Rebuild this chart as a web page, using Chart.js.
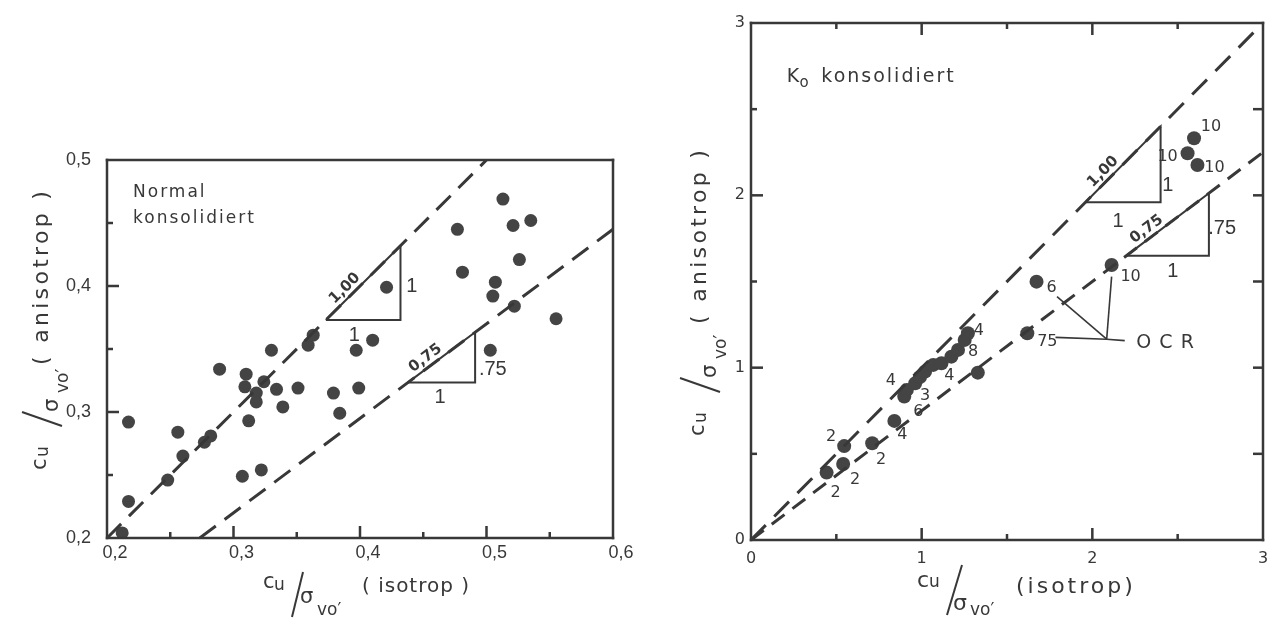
<!DOCTYPE html>
<html>
<head>
<meta charset="utf-8">
<script src="https://cdn.jsdelivr.net/npm/chart.js@4.4.1/dist/chart.umd.min.js"></script>
<style>
  html, body { margin: 0; padding: 0; background: #fff; }
  #wrap { position: relative; width: 1270px; height: 620px; overflow: hidden; }
  .box { position: absolute; top: 0; height: 620px; }
  #left { left: 0; width: 640px; }
  #right { left: 640px; width: 630px; }
</style>
</head>
<body>
<div id="wrap">
  <div class="box" id="left"><canvas id="nc-canvas"></canvas></div>
  <div class="box" id="right"><canvas id="k0-canvas"></canvas></div>
</div>
<script>
// normal konsolidiert: cu/sigma'vo isotrop (x) vs anisotrop (y)
var ncIso = [0.217, 0.217, 0.212, 0.248, 0.256, 0.260, 0.277, 0.282, 0.289, 0.307,
             0.322, 0.310, 0.309, 0.312, 0.318, 0.318, 0.324, 0.330, 0.334, 0.339,
             0.351, 0.359, 0.363, 0.379, 0.384, 0.397, 0.399, 0.410, 0.421, 0.477,
             0.481, 0.513, 0.521, 0.535, 0.526, 0.507, 0.505, 0.522, 0.555, 0.503];
var ncAniso = [0.292, 0.229, 0.204, 0.246, 0.284, 0.265, 0.276, 0.281, 0.334, 0.249,
               0.254, 0.330, 0.320, 0.293, 0.315, 0.308, 0.324, 0.349, 0.318, 0.304,
               0.319, 0.353, 0.361, 0.315, 0.299, 0.349, 0.319, 0.357, 0.399, 0.445,
               0.411, 0.469, 0.448, 0.452, 0.421, 0.403, 0.392, 0.384, 0.374, 0.349];
var ncTicksX = [0.2, 0.3, 0.4, 0.5, 0.6];
var ncTicksY = [0.2, 0.3, 0.4, 0.5];
var ncSlopes = [1.00, 0.75];
var ncIntercepts = [0, -0.005];
var ncTriangles = [[0.373, 0.432], [0.438, 0.491]];   // x range of each slope triangle

// K0 konsolidiert, with OCR per test
var k0Iso = [0.443, 0.546, 0.540, 0.710, 0.840, 0.898, 0.913, 0.962, 0.990, 1.020,
             1.068, 1.116, 1.174, 1.213, 1.252, 1.271, 1.329, 1.619, 1.673, 2.113,
             2.596, 2.558, 2.616];
var k0Aniso = [0.391, 0.545, 0.441, 0.561, 0.691, 0.833, 0.871, 0.909, 0.945, 0.977,
               1.016, 1.026, 1.064, 1.103, 1.161, 1.200, 0.971, 1.200, 1.499, 1.596,
               2.331, 2.244, 2.176];
var k0Ocr = ['2', '2', '2', '2', '4', '6', '4', '3', '', '',
             '', '4', '', '8', '', '4', '', '75', '6', '10',
             '10', '10', '10'];
var k0Ticks = [0, 1, 2, 3];
var k0Slopes = [1.00, 0.75];
var k0Intercepts = [0, 0];
var k0Triangles = [[1.96, 2.40], [2.20, 2.683]];

var ink = '#383838';
var dot = '#444444';

// where each OCR number sits next to its point (px)
var ocrShift = [[9, 20], [-13, -9], [12, 16], [9, 17], [8, 14], [14, 15], [-16, -9], [10, 12], [0, 0], [0, 0],
                [0, 0], [8, 13], [0, 0], [15, 2], [0, 0], [11, -2], [0, 0], [20, 9], [15, 6], [19, 12],
                [17, -11], [-20, 4], [17, 3]];

function pairs(xs, ys) {
  return xs.map(function (v, i) { return {x: v, y: ys[i]}; });
}

function refLine(m, b, xr, yr) {
  var x0 = Math.max(xr[0], (yr[0] - b) / m);
  var x1 = Math.min(xr[1], (yr[1] - b) / m);
  return [{x: x0, y: m * x0 + b}, {x: x1, y: m * x1 + b}];
}

function triangle(m, b, xs) {
  var ya = m * xs[0] + b, yb = m * xs[1] + b;
  return [{x: xs[0], y: ya}, {x: xs[1], y: ya}, {x: xs[1], y: yb}, {x: xs[0], y: ya}];
}

function seg(data, width, dash) {
  return {
    data: data, showLine: true, borderColor: ink, borderWidth: width,
    borderDash: dash || [], pointRadius: 0, fill: false, tension: 0
  };
}

function fixedScale(size, horizontal) {
  return function (s) {
    if (horizontal) s.height = size; else s.width = size;
    s.paddingLeft = 0; s.paddingRight = 0; s.paddingTop = 0; s.paddingBottom = 0;
  };
}

function useTicks(list) {
  return function (s) { s.ticks = list.map(function (v) { return {value: v}; }); };
}

// major ticks on inner values, minor ticks halfway between
function tickMarks(list) {
  var out = [];
  for (var i = 0; i < list.length; i++) {
    if (i > 0 && i < list.length - 1) out.push([list[i], 12]);
    if (i < list.length - 1) out.push([(list[i] + list[i + 1]) / 2, 6]);
  }
  return out;
}

// frame with inward ticks
function framePlugin(edges, xList, yList) {
  var has = {};
  edges.forEach(function (e) { has[e] = true; });
  return {
    id: 'frame',
    afterDraw: function (chart) {
      var ctx = chart.ctx, a = chart.chartArea, sx = chart.scales.x, sy = chart.scales.y;
      var w = 2.5, h = w / 2;
      ctx.save();
      ctx.fillStyle = ink;
      ctx.fillRect(a.left - h, a.top - h, a.right - a.left + w, w);
      ctx.fillRect(a.left - h, a.bottom - h, a.right - a.left + w, w);
      ctx.fillRect(a.left - h, a.top - h, w, a.bottom - a.top + w);
      ctx.fillRect(a.right - h, a.top - h, w, a.bottom - a.top + w);
      tickMarks(xList).forEach(function (m) {
        var p = sx.getPixelForValue(m[0]);
        if (has.bottom) ctx.fillRect(p - h, a.bottom - m[1], w, m[1]);
        if (has.top) ctx.fillRect(p - h, a.top, w, m[1]);
      });
      tickMarks(yList).forEach(function (m) {
        var p = sy.getPixelForValue(m[0]);
        if (has.left) ctx.fillRect(a.left, p - h, m[1], w);
        if (has.right) ctx.fillRect(a.right - 10, p - h, 10, w);
      });
      ctx.restore();
    }
  };
}

// cu / sigma'vo composite axis title, drawn in a local frame
function drawRatioTitle(ctx, t) {
  ctx.save();
  ctx.translate(t.x, t.y);
  ctx.rotate(t.rot);
  ctx.fillStyle = ink;
  ctx.strokeStyle = ink;
  ctx.textAlign = 'left';
  ctx.textBaseline = 'alphabetic';
  ctx.font = t.size + 'px "DejaVu Sans"';
  ctx.fillText('c', 0, 0);
  ctx.font = t.sub + 'px "DejaVu Sans"';
  ctx.fillText('u', t.u[0], t.u[1]);
  ctx.lineWidth = 2;
  ctx.beginPath();
  ctx.moveTo(t.slash[0], t.slash[1]);
  ctx.lineTo(t.slash[2], t.slash[3]);
  ctx.stroke();
  ctx.font = t.size + 'px "DejaVu Sans"';
  ctx.fillText('σ', t.sigma[0], t.sigma[1]);
  ctx.font = t.sub + 'px "DejaVu Sans"';
  ctx.fillText('vo′', t.vo[0], t.vo[1]);
  ctx.font = t.mainSize + 'px "DejaVu Sans"';
  ctx.letterSpacing = t.spacing + 'px';
  ctx.fillText(t.text, t.main[0], t.main[1]);
  ctx.restore();
}

// text notes placed in data coordinates; a slope note sits on its line, rotated along it
function notesPlugin(notes, titles) {
  return {
    id: 'notes',
    afterDraw: function (chart) {
      var ctx = chart.ctx, sx = chart.scales.x, sy = chart.scales.y;
      notes.forEach(function (n) {
        var px = sx.getPixelForValue(n.x) + (n.dx || 0);
        var py = sy.getPixelForValue(n.y) + (n.dy || 0);
        var lift = 0;
        ctx.save();
        ctx.translate(px, py);
        if (n.slope) {
          var ang = Math.atan2(sy.getPixelForValue(n.slope) - sy.getPixelForValue(0),
                               sx.getPixelForValue(1) - sx.getPixelForValue(0));
          ctx.rotate(ang);
          lift = -5;
        }
        ctx.fillStyle = ink;
        ctx.font = (n.weight || 'normal') + ' ' + n.size + 'px ' + (n.family || '"DejaVu Sans"');
        ctx.letterSpacing = (n.spacing || 0) + 'px';
        ctx.textAlign = n.align || 'center';
        ctx.textBaseline = n.slope ? 'alphabetic' : (n.base || 'middle');
        ctx.fillText(n.text, 0, lift);
        ctx.restore();
      });
      titles.forEach(function (t) { drawRatioTitle(ctx, t); });
    }
  };
}

function axis(ticksList, fmt, font, pad, width, horizontal, offset) {
  return {
    type: 'linear',
    min: ticksList[0],
    max: ticksList[ticksList.length - 1],
    grid: {display: false, drawTicks: false},
    border: {display: false},
    ticks: {
      color: ink, font: font, padding: pad, labelOffset: offset || 0,
      maxRotation: 0, autoSkip: false, callback: fmt
    },
    afterBuildTicks: useTicks(ticksList),
    afterFit: fixedScale(width, horizontal)
  };
}

Chart.defaults.font.family = '"DejaVu Sans"';

// ---- left panel ----
var ncX = [ncTicksX[0], ncTicksX[ncTicksX.length - 1]];
var ncY = [ncTicksY[0], ncTicksY[ncTicksY.length - 1]];
var ncSets = [];
ncSlopes.forEach(function (m, i) {
  ncSets.push(seg(refLine(m, ncIntercepts[i], ncX, ncY), 3, [20, 11]));
  ncSets.push(seg(triangle(m, ncIntercepts[i], ncTriangles[i]), 2));
});
ncSets.push({
  data: pairs(ncIso, ncAniso), backgroundColor: dot, borderColor: dot,
  borderWidth: 0, pointRadius: 6.5, pointHoverRadius: 6.5
});

var commaFmt = function (v) { return v.toFixed(1).replace('.', ','); };
var labelFont = {family: '"Liberation Sans"', size: 18};
var thin = '"Liberation Sans"';

var ncNotes = [
  {text: 'Normal', x: 0.2206, y: 0.4706, size: 17, spacing: 2, align: 'left', base: 'alphabetic'},
  {text: 'konsolidiert', x: 0.2206, y: 0.450, size: 17, spacing: 2, align: 'left', base: 'alphabetic'},
  {text: '1,00', x: 0.393, y: 0.393, size: 15, weight: 'bold', slope: 1.00},
  {text: '1', x: 0.441, y: 0.3994, size: 20, family: thin},
  {text: '1', x: 0.3956, y: 0.361, size: 20, family: thin},
  {text: '0,75', x: 0.456, y: 0.337, size: 15, weight: 'bold', slope: 0.75},
  {text: '.75', x: 0.505, y: 0.334, size: 20, family: thin},
  {text: '1', x: 0.4632, y: 0.3115, size: 20, family: thin}
];
var ncTitles = [
  {x: 263, y: 588, rot: 0, size: 21, sub: 17, u: [11, 2], slash: [40, -16, 29, 29],
   sigma: [37, 15], vo: [54, 27], mainSize: 20, spacing: 1, text: '( isotrop )', main: [99, 4]},
  {x: 46, y: 470, rot: -Math.PI / 2, size: 21, sub: 17, u: [13, 2], slash: [58, -24, 44, 16],
   sigma: [58, 12], vo: [77, 22], mainSize: 22, spacing: 3.3, text: '( anisotrop )', main: [105, 2]}
];

new Chart(document.getElementById('nc-canvas'), {
  type: 'scatter',
  data: {datasets: ncSets},
  options: {
    responsive: true, maintainAspectRatio: false, animation: false,
    layout: {padding: {left: 0, right: 27, top: 160, bottom: 0}},
    plugins: {legend: {display: false}, tooltip: {enabled: false}},
    events: [],
    scales: {
      x: axis(ncTicksX, commaFmt, labelFont, 4, 82, true, 8),
      y: axis(ncTicksY, commaFmt, labelFont, 16, 107, false)
    }
  },
  plugins: [framePlugin(['left', 'bottom'], ncTicksX, ncTicksY), notesPlugin(ncNotes, ncTitles)]
});

// ---- right panel ----
var k0R = [k0Ticks[0], k0Ticks[k0Ticks.length - 1]];
var k0Sets = [];
k0Slopes.forEach(function (m, i) {
  k0Sets.push(seg(refLine(m, k0Intercepts[i], k0R, k0R), 3, i === 0 ? [21, 12] : [16, 10]));
  k0Sets.push(seg(triangle(m, k0Intercepts[i], k0Triangles[i]), 2));
});
// OCR leader lines
var hub = {x: 2.084, y: 1.165};
k0Sets.push(seg([{x: 1.784, y: 1.176}, hub, {x: 2.190, y: 1.157}], 1.6));
k0Sets.push(seg([{x: 1.793, y: 1.412}, hub], 1.6));
k0Sets.push(seg([{x: 2.113, y: 1.528}, hub], 1.6));
k0Sets.push({
  data: pairs(k0Iso, k0Aniso), backgroundColor: dot, borderColor: dot,
  borderWidth: 0, pointRadius: 7, pointHoverRadius: 7
});

var k0Notes = [
  {text: 'K', x: 0.209, y: 2.658, size: 19, align: 'left', base: 'alphabetic'},
  {text: 'o', x: 0.284, y: 2.658, dy: 5, size: 15, align: 'left', base: 'alphabetic'},
  {text: 'konsolidiert', x: 0.412, y: 2.658, size: 19, spacing: 2, align: 'left', base: 'alphabetic'},
  {text: '1,00', x: 2.10, y: 2.10, size: 15, weight: 'bold', slope: 1.00},
  {text: '1', x: 2.442, y: 2.060, size: 20, family: thin},
  {text: '1', x: 2.151, y: 1.847, size: 20, family: thin},
  {text: '0,75', x: 2.35, y: 1.7625, size: 15, weight: 'bold', slope: 0.75},
  {text: '.75', x: 2.761, y: 1.809, size: 20, family: thin},
  {text: '1', x: 2.471, y: 1.557, size: 20, family: thin},
  {text: 'O C R', x: 2.258, y: 1.143, size: 19, align: 'left', spacing: 1}
];
k0Ocr.forEach(function (s, i) {
  if (s) k0Notes.push({text: s, x: k0Iso[i], y: k0Aniso[i], dx: ocrShift[i][0], dy: ocrShift[i][1], size: 16});
});
var k0Titles = [
  {x: 277, y: 587, rot: 0, size: 22, sub: 17, u: [12, 0], slash: [45, -22, 30, 28],
   sigma: [36, 23], vo: [53, 28], mainSize: 22, spacing: 3, text: '(isotrop)', main: [99, 6]},
  {x: 64, y: 436, rot: -Math.PI / 2, size: 21, sub: 17, u: [13, 2], slash: [58, -24, 44, 16],
   sigma: [58, 12], vo: [77, 22], mainSize: 22, spacing: 3.3, text: '( anisotrop )', main: [112, 2]}
];

new Chart(document.getElementById('k0-canvas'), {
  type: 'scatter',
  data: {datasets: k0Sets},
  options: {
    responsive: true, maintainAspectRatio: false, animation: false,
    layout: {padding: {left: 0, right: 2, top: 23, bottom: 0}},
    plugins: {legend: {display: false}, tooltip: {enabled: false}},
    events: [],
    scales: {
      x: axis(k0Ticks, function (v) { return String(v); }, {size: 16}, 9, 80, true),
      y: axis(k0Ticks, function (v) { return String(v); }, {size: 16}, 6, 111, false)
    }
  },
  plugins: [framePlugin(['left', 'bottom', 'top', 'right'], k0Ticks, k0Ticks), notesPlugin(k0Notes, k0Titles)]
});
</script>
</body>
</html>
